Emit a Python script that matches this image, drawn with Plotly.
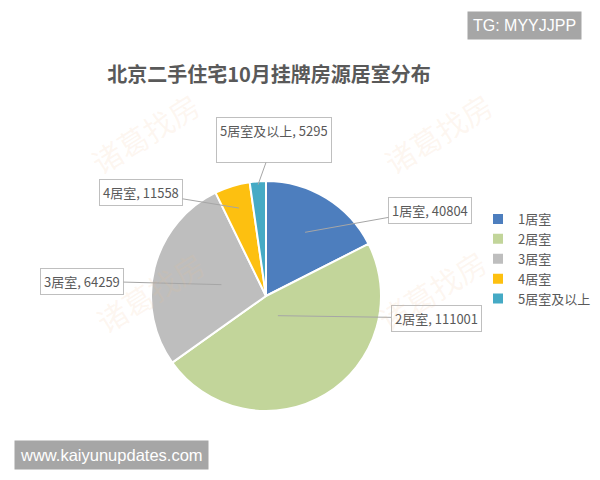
import math
import plotly.graph_objects as go

categories = ["1居室", "2居室", "3居室", "4居室", "5居室及以上"]
values = [40804, 111001, 64259, 11558, 5295]
colors = ["#4D7EBE", "#C2D59A", "#BEBEBE", "#FDC010", "#45AAC5"]

W, H = 600, 480
cx, cy, R = 266, 296, 115  # pie centre / radius in pixels (layout)

# label box centres (pixels) and depth of leader-line tip (fraction of radius)
box_pos = [(430, 210), (436, 318), (82, 281), (141, 192), (274, 140)]
tip_frac = [0.65, 0.2, 0.4, 0.8, 0.97]

FONT = "Noto Sans CJK SC, Microsoft YaHei, sans-serif"
TXT = "#595959"

fig = go.Figure()
fig.add_trace(go.Pie(
    labels=categories, values=values, sort=False, direction="clockwise",
    rotation=0, textinfo="none", hoverinfo="label+value+percent",
    marker=dict(colors=colors, line=dict(color="white", width=2)),
    domain=dict(x=[(cx - R) / W, (cx + R) / W], y=[(H - cy - R) / H, (H - cy + R) / H]),
))

total = sum(values)
annotations = []
cum = 0
for i, (cat, v) in enumerate(zip(categories, values)):
    mid = (cum + v / 2) / total * 2 * math.pi
    cum += v
    f = tip_frac[i] * R
    px = cx + math.sin(mid) * f
    py = cy - math.cos(mid) * f
    bx, by = box_pos[i]
    extra = {}
    if i == 4:
        extra = dict(height=38, valign="top")
    annotations.append(dict(
        x=px / W, y=1 - py / H, xref="paper", yref="paper",
        text=f"{cat}, {v}", showarrow=True, arrowhead=0, arrowwidth=1,
        arrowcolor="#A6A6A6", ax=bx - px, ay=by - py,
        font=dict(family=FONT, size=13, color=TXT),
        bgcolor="white", bordercolor="#BFBFBF", borderwidth=1, borderpad=3,
        **extra,
    ))

# watermark
for (wx, wy) in [(145, 133), (438, 133), (150, 292), (432, 290)]:
    annotations.append(dict(
        x=wx / W, y=1 - wy / H, xref="paper", yref="paper", showarrow=False,
        xanchor="center", yanchor="middle",
        text="诸葛找房", textangle=-32,
        font=dict(family=FONT, size=30, color="rgba(240,190,140,0.13)"),
    ))

annotations.append(dict(
    x=524 / W, y=1 - 25 / H, xref="paper", yref="paper", showarrow=False,
    xanchor="center", yanchor="middle",
    text="TG: MYYJJPP", font=dict(family="Liberation Sans, Arial", size=16, color="white"),
    bgcolor="#A6A6A6", borderpad=5,
))
annotations.append(dict(
    x=111.5 / W, y=1 - 455 / H, xref="paper", yref="paper", showarrow=False,
    xanchor="center", yanchor="middle",
    text="www.kaiyunupdates.com", font=dict(family="Liberation Sans, Arial", size=16.5, color="white"),
    bgcolor="#A6A6A6", borderpad=5,
))

fig.update_layout(
    width=W, height=H,
    margin=dict(l=0, r=0, t=0, b=0),
    paper_bgcolor="white",
    title=dict(text="<b>北京二手住宅10月挂牌房源居室分布</b>", x=269 / W, y=1 - 75 / H,
               xanchor="center", yanchor="middle",
               font=dict(family=FONT, size=20, color=TXT)),
    legend=dict(x=478 / W, y=1 - 204 / H, xanchor="left", yanchor="top",
                font=dict(family=FONT, size=13, color=TXT), bgcolor="rgba(0,0,0,0)"),
    annotations=annotations,
)

fig.write_html("out.html", config={"displayModeBar": False},
               post_script="document.body.style.margin='0';")
